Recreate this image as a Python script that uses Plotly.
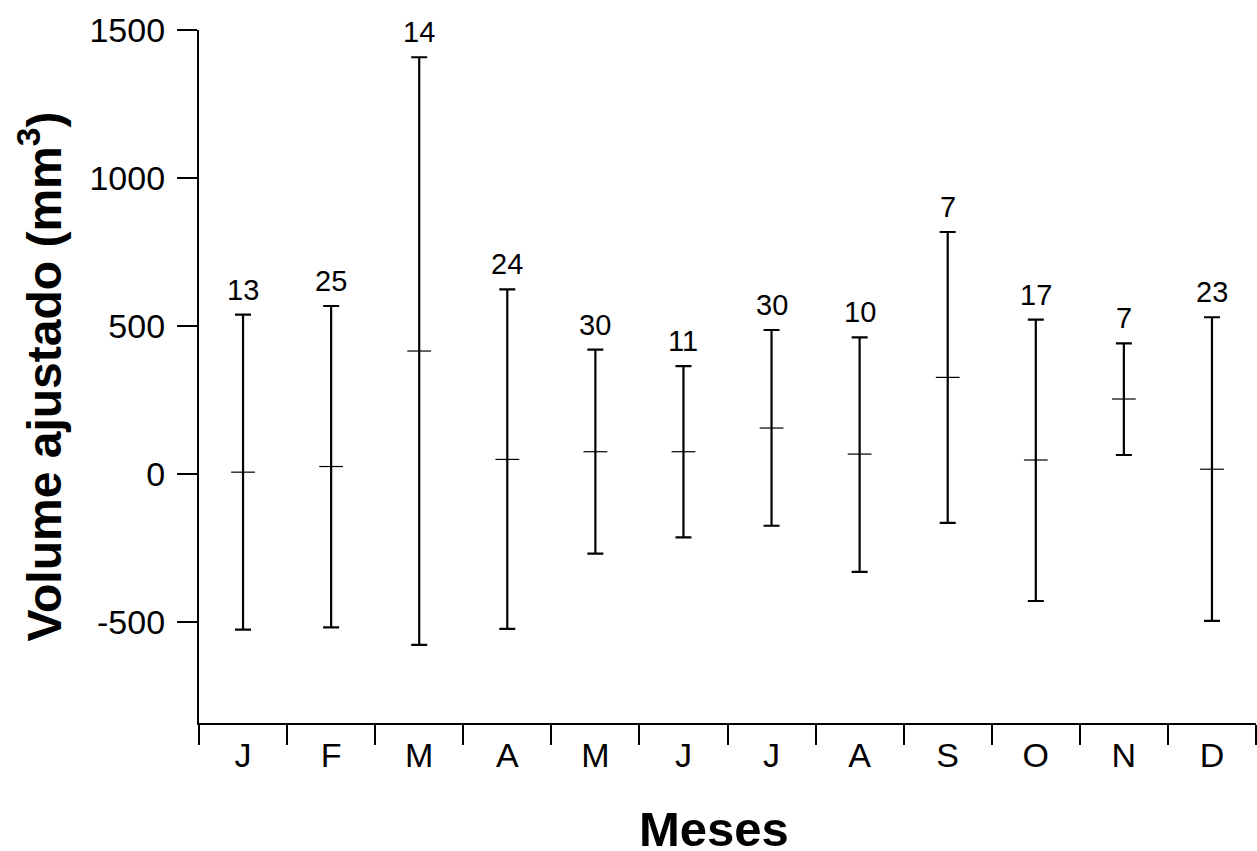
import plotly.graph_objects as go

months = ["J", "F", "M", "A", "M", "J", "J", "A", "S", "O", "N", "D"]
means = [7, 26, 416, 50, 76, 76, 156, 68, 327, 48, 254, 17]
upper = [539, 568, 1408, 624, 421, 365, 487, 462, 818, 522, 442, 530]
lower = [-525, -517, -576, -522, -268, -213, -174, -330, -164, -428, 65, -495]
counts = [13, 25, 14, 24, 30, 11, 30, 10, 7, 17, 7, 23]
yticks = [-500, 0, 500, 1000, 1500]
ytick_text = ["-500", "0", "500", "1000", "1500"]

FONT = "Liberation Sans, Arial, Helvetica, sans-serif"
xpos = list(range(len(months)))
err_plus = [u - m for u, m in zip(upper, means)]
err_minus = [m - l for m, l in zip(means, lower)]

fig = go.Figure()
fig.add_trace(go.Scatter(
    x=xpos, y=means, mode="markers",
    marker=dict(symbol="line-ew", size=17, color="black",
                line=dict(color="black", width=1.2)),
    error_y=dict(type="data", symmetric=False, array=err_plus,
                 arrayminus=err_minus, color="black", thickness=2.2, width=8),
    showlegend=False, hoverinfo="skip",
))

annotations = []
for i, (u, n) in enumerate(zip(upper, counts)):
    annotations.append(dict(
        x=i, y=u, xref="x", yref="y", text=str(n), showarrow=False,
        yanchor="bottom", xanchor="center", yshift=7,
        font=dict(family=FONT, size=29, color="black"),
    ))
annotations.append(dict(
    x=0.487, y=-0.153, xref="paper", yref="paper", text="<b>Meses</b>",
    showarrow=False, xanchor="center", yanchor="middle",
    font=dict(family=FONT, size=49, color="black"),
))

fig.update_layout(
    width=1257, height=851,
    margin=dict(l=199, r=1, t=30, b=128),
    paper_bgcolor="white", plot_bgcolor="white",
    font=dict(family=FONT, color="black"),
    annotations=annotations,
    xaxis=dict(
        range=[-0.5, 11.5], tickmode="array", tickvals=xpos, ticktext=months,
        ticks="outside", ticklen=1, tickcolor="rgba(0,0,0,0)",
        tickfont=dict(family=FONT, size=34, color="black"),
        showline=True, linecolor="black", linewidth=2.3,
        showgrid=False, zeroline=False,
        minor=dict(tick0=-0.5, dtick=1, ticks="outside", ticklen=20,
                   tickwidth=2.3, tickcolor="black", showgrid=False),
    ),
    yaxis=dict(
        range=[-840, 1500], tickmode="array", tickvals=yticks,
        ticktext=ytick_text,
        ticks="outside", ticklen=20, tickwidth=2.3, tickcolor="black",
        ticklabelstandoff=5,
        tickfont=dict(family=FONT, size=34, color="black"),
        showline=True, linecolor="black", linewidth=2.3,
        showgrid=False, zeroline=False,
        title=dict(text="<b>Volume ajustado (mm<sup>3</sup>)</b>",
                   font=dict(family=FONT, size=48, color="black"),
                   standoff=13),
    ),
)

fig.write_html(
    "out.html",
    config={"displayModeBar": False},
    post_script="document.body.style.margin='0';document.body.style.overflow='hidden';",
)
